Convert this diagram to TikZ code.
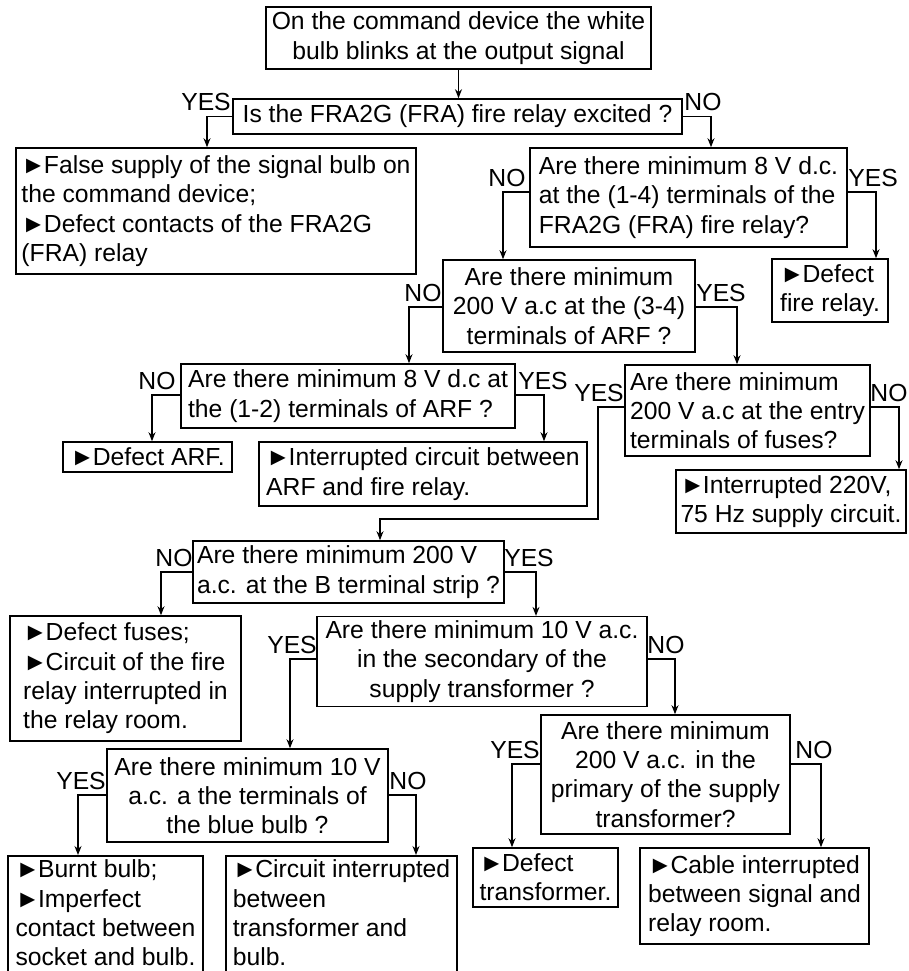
\documentclass[tikz,border=0pt]{standalone}
\usepackage{fontspec}
\setmainfont{Liberation Sans}
\usetikzlibrary{arrows.meta}
\newcommand\chartfont{\fontsize{24.7}{29.3}\selectfont}
\newcommand\arrowbullet{►\kern-2pt}

\begin{document}
\begin{tikzpicture}[x=1pt, y=-1pt, >={Stealth[length=9pt, width=7pt]}]
  % Set the box and connector styles
  \tikzset{
    box/.style={draw, line width=1.6pt, inner sep=4pt, font=\chartfont},
    question/.style={box, align=center},
    answer/.style={box, align=left},
    answerlbl/.style={above, inner sep=5pt, font=\chartfont},
    link/.style={->, line width=1.3pt}
  }
  \useasboundingbox (0,0) rectangle (908,971);

  % Draw the question boxes
  \node[question, minimum width=385pt, minimum height=62pt] (start) at (458.5,38)
    {On the command device the white\\bulb blinks at the output signal};
  \node[question, minimum width=449pt, minimum height=35pt] (q1) at (457.5,116.5)
    {Is the FRA2G (FRA) fire relay excited ?};
  \node[answer, minimum width=317pt, minimum height=99pt] (q2) at (688.5,197.5)
    {Are there minimum 8 V d.c.\\at the (1-4) terminals of the\\FRA2G (FRA) fire relay?};
  \node[question, minimum width=252pt, minimum height=92pt] (q3) at (569,306)
    {Are there minimum\\200 V a.c at the (3-4)\\terminals of ARF ?};
  \node[answer, minimum width=334pt, minimum height=64pt] (q4) at (348,396)
    {Are there minimum 8 V d.c at\\the (1-2) terminals of ARF ?};
  \node[answer, minimum width=245pt, minimum height=91pt] (q5) at (747.5,410.5)
    {Are there minimum\\200 V a.c at the entry\\terminals of fuses?};
  \node[answer, minimum width=311pt, minimum height=62pt] (q6) at (348.5,572)
    {Are there minimum 200 V\\a.c. at the B terminal strip ?};
  \node[question, minimum width=330pt, minimum height=89pt] (q7) at (482,661.5)
    {Are there minimum 10 V a.c.\\in the secondary of the\\supply transformer ?};
  \node[question, minimum width=249pt, minimum height=119pt] (q8) at (665.5,774.5)
    {Are there minimum\\200 V a.c. in the\\primary of the supply\\transformer?};
  \node[question, minimum width=281pt, minimum height=93pt] (q9) at (247.5,795.5)
    {Are there minimum 10 V\\a.c. a the terminals of\\the blue bulb ?};

  % Draw the answer boxes
  \node[answer, minimum width=400pt, minimum height=126pt] (a1) at (216,211)
    {\arrowbullet False supply of the signal bulb on\\the command device;\\\arrowbullet Defect contacts of the FRA2G\\(FRA) relay};
  \node[answer, minimum width=116pt, minimum height=63pt] (a2) at (830,290.5)
    {\arrowbullet Defect\\fire relay.};
  \node[answer, minimum width=169pt, minimum height=30pt] (a3) at (147.5,457)
    {\arrowbullet Defect ARF.};
  \node[answer, minimum width=328pt, minimum height=64pt] (a4) at (423,474)
    {\arrowbullet Interrupted circuit between\\ARF and fire relay.};
  \node[answer, minimum width=230pt, minimum height=63pt] (a5) at (791,501.5)
    {\arrowbullet Interrupted 220V,\\75 Hz supply circuit.};
  \node[answer, minimum width=231pt, minimum height=125pt] (a6) at (125.5,678.5)
    {\arrowbullet Defect fuses;\\\arrowbullet Circuit of the fire\\relay interrupted in\\the relay room.};
  \node[answer, minimum width=145pt, minimum height=59pt] (a7) at (545.5,877.5)
    {\arrowbullet Defect\\transformer.};
  \node[answer, minimum width=229pt, minimum height=96pt] (a8) at (754.5,896)
    {\arrowbullet Cable interrupted\\between signal and\\relay room.};
  \node[answer, minimum width=195pt, anchor=north, text depth=14pt] (a9) at (105.5,855)
    {\arrowbullet Burnt bulb;\\\arrowbullet Imperfect\\contact between\\socket and bulb.};
  \node[answer, minimum width=231pt, anchor=north, text depth=14pt] (a10) at (341.5,855)
    {\arrowbullet Circuit interrupted\\between\\transformer and\\bulb.};

  % Connect the boxes
  \draw[link] (start.south) -- (start.south |- q1.north);
  \foreach \from/\dy/\to/\dx/\lab/\ldx in {
      q1.west/0/a1/-9/YES/-1, q1.east/0/q2/22.5/NO/-8,
      q2.west/5.5/q3/-66/NO/4, q2.east/5.5/a2/46/YES/-3,
      q3.west/-1/q4/61/NO/14, q3.east/-1/q5/-10.5/YES/-16,
      q4.west/1/a3/4.5/NO/5, q4.east/1/a4/121/YES/-1,
      q5.east/3.5/a5/108/NO/-10,
      q6.west/0/a6/35.5/NO/13, q6.east/0/q7/54/YES/-7,
      q7.west/2.5/q9/42.5/YES/2, q7.east/2.5/q8/9.5/NO/-9,
      q8.west/10.5/a7/-33.5/YES/3, q8.east/10.5/a8/66.5/NO/-7,
      q9.west/0.5/a9/-27.5/YES/3, q9.east/0.5/a10/74.5/NO/-8}{
    \draw[link] ([yshift=\dy pt]\from) -| node[answerlbl, xshift=\ldx pt] {\lab}
      ([xshift=\dx pt]\to.north);
  }

  % The YES branch of the fuses question runs round the answer box
  \coordinate (bend) at (598,519);
  \draw[link] ([yshift=3.5pt]q5.west) -| node[answerlbl, xshift=1pt] {YES} (bend)
    -| ([xshift=31.5pt]q6.north);
\end{tikzpicture}
\end{document}
